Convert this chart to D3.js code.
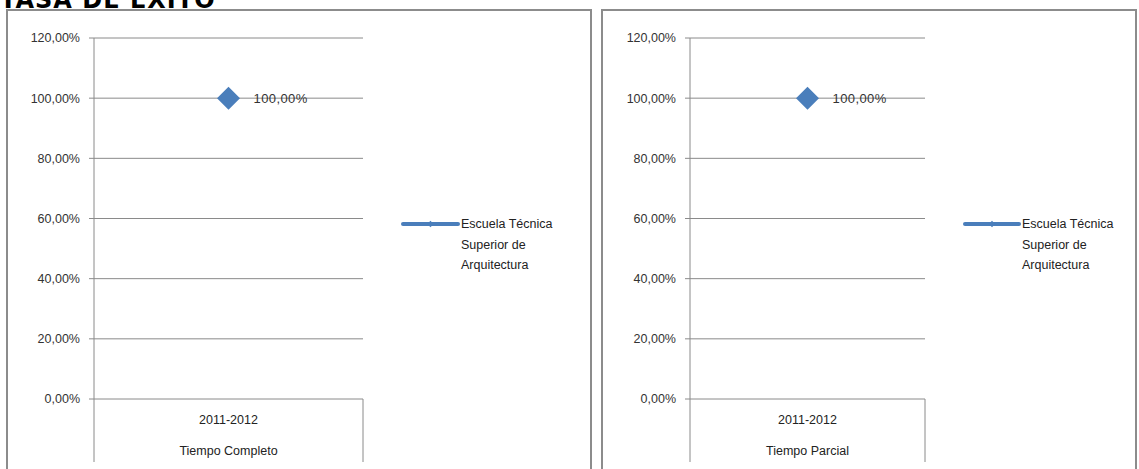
<!DOCTYPE html>
<html><head><meta charset="utf-8">
<script src="https://cdn.jsdelivr.net/npm/d3@7"></script>
<style>
html,body{margin:0;padding:0;background:#fff;overflow:hidden}
svg{display:block}
text{font-family:"Liberation Sans",Arial,sans-serif}
</style></head>
<body>
<svg id="c" width="1139" height="469"></svg>
<script>
const title = "TASA DE EXITO";
const categories = ["2011-2012"];
const groups = ["Tiempo Completo", "Tiempo Parcial"];
const seriesName = "Escuela Técnica Superior de Arquitectura";
const legendLines = ["Escuela Técnica", "Superior de", "Arquitectura"];
const valuesCompleto = [100];
const valuesParcial = [100];
const yTicks = [0, 20, 40, 60, 80, 100, 120];
const fmt = v => d3.format(".2f")(v).replace(".", ",") + "%";

const svg = d3.select("#c");
svg.append("text").attr("x", 0).attr("y", 8)
  .style("font-family", "'DejaVu Sans', Verdana, sans-serif").attr("font-weight", "bold")
  .attr("font-size", 24).attr("letter-spacing", 1).attr("fill", "#000").text(title);

const panels = [
  {box:[7,10,584,480], plot:[94,363], legend:[403,461], group:groups[0], values:valuesCompleto},
  {box:[602,10,534,480], plot:[690,925], legend:[965,1022], group:groups[1], values:valuesParcial}
];
const y = d3.scaleLinear().domain([0,120]).range([399,38]);

panels.forEach(p => {
  const g = svg.append("g");
  g.append("rect").attr("x",p.box[0]).attr("y",p.box[1]).attr("width",p.box[2]).attr("height",p.box[3])
    .attr("fill","#fff").attr("stroke","#8c8c8c").attr("stroke-width",2);
  const x = d3.scaleBand().domain(categories).range(p.plot);
  g.selectAll(".grid").data(yTicks).join("line")
    .attr("x1", p.plot[0]-5).attr("x2", p.plot[1])
    .attr("y1", d=>y(d)).attr("y2", d=>y(d))
    .attr("stroke","#8a8a8a").attr("stroke-width",1);
  g.append("line").attr("x1",p.plot[0]).attr("x2",p.plot[0]).attr("y1",y(120)).attr("y2",462)
    .attr("stroke","#8a8a8a");
  g.append("line").attr("x1",p.plot[1]).attr("x2",p.plot[1]).attr("y1",y(0)).attr("y2",462)
    .attr("stroke","#8a8a8a");
  g.selectAll(".yl").data(yTicks).join("text")
    .attr("x", p.plot[0]-14).attr("y", d=>y(d)).attr("dy","0.35em")
    .attr("text-anchor","end").attr("font-size",12.5).attr("fill","#333")
    .text(fmt);
  g.selectAll(".xl").data(categories).join("text")
    .attr("x", d=>x(d)+x.bandwidth()/2).attr("y", 420).attr("dy","0.35em")
    .attr("text-anchor","middle").attr("font-size",12.5).attr("fill","#222").text(d=>d);
  g.append("text").attr("x",(p.plot[0]+p.plot[1])/2).attr("y",451).attr("dy","0.35em")
    .attr("text-anchor","middle").attr("font-size",12.5).attr("fill","#222").text(p.group);
  const sym = d3.symbol().type(d3.symbolSquare).size(265);
  g.selectAll(".pt").data(p.values).join("path")
    .attr("d", sym)
    .attr("transform",(d,i)=>`translate(${x(categories[i])+x.bandwidth()/2},${y(d)}) rotate(45)`)
    .attr("fill","#4a7ebb");
  g.selectAll(".lbl").data(p.values).join("text")
    .attr("x",(d,i)=>x(categories[i])+x.bandwidth()/2+25).attr("y",d=>y(d)).attr("dy","0.35em")
    .attr("font-size",13).attr("letter-spacing",0.4).attr("fill","#333").text(fmt);
  const ly = 224;
  g.append("line").attr("x1",p.legend[0]).attr("x2",p.legend[1]-3).attr("y1",ly).attr("y2",ly)
    .attr("stroke","#4a7ebb").attr("stroke-width",4).attr("stroke-linecap","round");
  g.append("path").attr("d", d3.symbol().type(d3.symbolSquare).size(20))
    .attr("transform",`translate(${(p.legend[0]+p.legend[1]-3)/2},${ly}) rotate(45)`).attr("fill","#4a7ebb");
  g.selectAll(".lg").data(legendLines).join("text")
    .attr("x",p.legend[1]).attr("y",(d,i)=>ly+i*20.5).attr("dy","0.35em")
    .attr("font-size",12.5).attr("fill","#222").text(d=>d);
});
</script>
</body></html>
